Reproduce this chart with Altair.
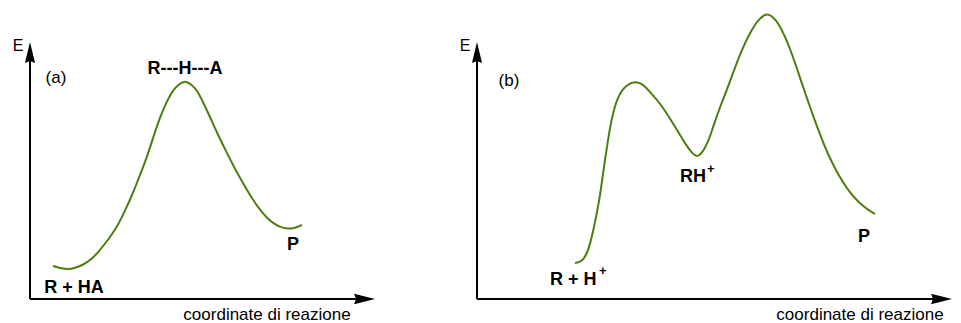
import altair as alt
import pandas as pd

# ---- data (x: horizontal position along reaction coordinate, E: energy) ----
CURVE_A_X = [53, 60, 68, 75, 83, 92, 100, 108, 117, 125, 133, 140, 147, 153, 160, 167, 173, 179, 185,
             191, 197, 203, 210, 218, 227, 235, 243, 251, 260, 267, 273, 280, 287, 295, 302]
CURVE_A_E = [33, 31, 29.5, 31, 34, 40, 49, 59, 72, 88, 106, 124, 142, 161, 182, 198, 209, 215, 218.5,
             215, 209, 197, 182, 164, 146, 130, 116, 102, 89, 81, 76, 72, 70, 71, 74]

CURVE_B_X = [575, 581, 587, 593, 600, 603, 607, 610, 614, 618, 623, 627, 635, 643, 650, 660, 673,
             687, 693, 697, 701, 705, 710, 713, 720, 727, 740, 753, 760, 767, 773, 778, 790, 803,
             817, 830, 847, 863, 875]
CURVE_B_E = [36, 37, 44, 66, 102, 126, 152, 172, 190, 202, 210, 214, 218, 215, 207, 196, 176,
             152, 145, 142, 145, 151, 162, 172, 192, 209, 246, 272, 281, 286, 282, 277, 252, 212,
             172, 139, 109, 92, 85]

# axes of the two panels
AXIS_ORIGIN_X = [30, 477]
AXIS_END_X = [375, 952]
AXIS_TOP_E = [257, 257]

# bold species labels
BOLD_TEXT = ["R---H---A", "R + HA", "P", "RH", "R + H", "P"]
BOLD_X = [185, 74, 293, 680, 550, 864]
BOLD_E = [225, 6, 49, 117, 14, 57]
BOLD_ALIGN = ["center", "center", "center", "left", "left", "center"]

SUP_TEXT = ["+", "+"]
SUP_X = [707, 599]
SUP_E = [126, 24]

PANEL_TEXT = ["(a)", "(b)"]
PANEL_X = [56, 509]
PANEL_E = [216, 213]

E_TEXT = ["E", "E"]
E_X = [18, 465]
E_E = [248, 248]

XTITLE_TEXT = ["coordinate di reazione", "coordinate di reazione"]
XTITLE_X = [267, 860]
XTITLE_E = [-21, -21]

GREEN = "#4e7d10"
FONT = "Liberation Sans"

W, H = 945, 315
xs = alt.Scale(domain=[8, 953], nice=False, zero=False)
ys = alt.Scale(domain=[-24, 291], nice=False, zero=False)

curves = pd.DataFrame({
    "x": CURVE_A_X + CURVE_B_X,
    "E": CURVE_A_E + CURVE_B_E,
    "panel": ["a"] * len(CURVE_A_X) + ["b"] * len(CURVE_B_X),
})

ARROW_LEN = 21
axes_df = pd.DataFrame({
    "x0": AXIS_ORIGIN_X,
    "x1": [v - ARROW_LEN + 3 for v in AXIS_END_X],
    "xt": AXIS_END_X,
    "e0": [0, 0],
    "e1": [v - ARROW_LEN + 3 for v in AXIS_TOP_E],
    "et": AXIS_TOP_E,
})

X = lambda f: alt.X(f, type="quantitative", scale=xs, axis=None)
Y = lambda f: alt.Y(f, type="quantitative", scale=ys, axis=None)

base_axes = alt.Chart(axes_df)
h_rule = base_axes.mark_rule(color="black", strokeWidth=2).encode(
    x=X("x0"), x2="x1", y=Y("e0"))
v_rule = base_axes.mark_rule(color="black", strokeWidth=2).encode(
    x=X("x0"), y=Y("e0"), y2="e1")
up_head = base_axes.mark_point(
    shape="M0,0 L0.48,2 L0,1.8 L-0.48,2 Z", filled=True, color="black",
    opacity=1, size=ARROW_LEN * ARROW_LEN, strokeWidth=0).encode(
    x=X("x0"), y=Y("et"))
right_head = base_axes.mark_point(
    shape="M0,0 L-2,0.5 L-1.8,0 L-2,-0.5 Z", filled=True, color="black",
    opacity=1, size=ARROW_LEN * ARROW_LEN, strokeWidth=0).encode(
    x=X("xt"), y=Y("e0"))

lines = alt.Chart(curves).mark_line(
    color=GREEN, strokeWidth=2, interpolate="basis").encode(
    x=X("x"), y=Y("E"), detail="panel:N")

bold_df = pd.DataFrame({"t": BOLD_TEXT, "x": BOLD_X, "E": BOLD_E, "al": BOLD_ALIGN})
bold_c = alt.Chart(bold_df[bold_df.al == "center"]).mark_text(
    font=FONT, fontSize=18, fontWeight="bold", align="center", baseline="alphabetic",
    color="black").encode(x=X("x"), y=Y("E"), text="t:N")
bold_l = alt.Chart(bold_df[bold_df.al == "left"]).mark_text(
    font=FONT, fontSize=18, fontWeight="bold", align="left", baseline="alphabetic",
    color="black").encode(x=X("x"), y=Y("E"), text="t:N")
sup = alt.Chart(pd.DataFrame({"t": SUP_TEXT, "x": SUP_X, "E": SUP_E})).mark_text(
    font=FONT, fontSize=13, fontWeight="bold", align="left", baseline="alphabetic",
    color="black").encode(x=X("x"), y=Y("E"), text="t:N")
panel = alt.Chart(pd.DataFrame({"t": PANEL_TEXT, "x": PANEL_X, "E": PANEL_E})).mark_text(
    font=FONT, fontSize=17, align="center", baseline="alphabetic",
    color="black").encode(x=X("x"), y=Y("E"), text="t:N")
elab = alt.Chart(pd.DataFrame({"t": E_TEXT, "x": E_X, "E": E_E})).mark_text(
    font=FONT, fontSize=16, align="center", baseline="alphabetic",
    color="black").encode(x=X("x"), y=Y("E"), text="t:N")
xtitle = alt.Chart(pd.DataFrame({"t": XTITLE_TEXT, "x": XTITLE_X, "E": XTITLE_E})).mark_text(
    font=FONT, fontSize=17, align="center", baseline="alphabetic",
    color="black").encode(x=X("x"), y=Y("E"), text="t:N")

chart = alt.layer(
    h_rule, v_rule, up_head, right_head, lines, bold_c, bold_l, sup, panel, elab, xtitle
).properties(
    width=W, height=H, padding=0, autosize=alt.AutoSizeParams(type="none"),
    background="white"
).configure_view(stroke=None)

chart.save("out.html", embed_options={"renderer": "svg", "actions": False})
